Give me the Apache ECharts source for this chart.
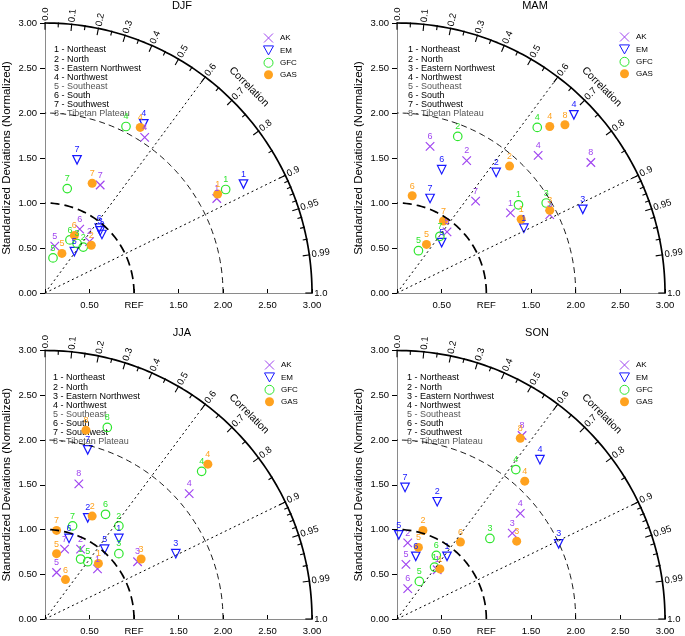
<!DOCTYPE html>
<html><head><meta charset="utf-8">
<script src="https://cdn.jsdelivr.net/npm/echarts@6/dist/echarts.min.js"></script>
<style>html,body{margin:0;padding:0;background:#fff}#c{width:685px;height:636px}</style>
</head><body><div id="c"></div>
<script>
// ---------- data ----------
const seasons = ['DJF', 'MAM', 'JJA', 'SON'];
const models = ['AK', 'EM', 'GFC', 'GAS'];
const regionNames = ['1 - Northeast', '2 - North', '3 - Eastern Northwest', '4 - Northwest',
  '5 - Southeast', '6 - South', '7 - Southwest', '8 - Tibetan Plateau'];
const stdTicks = [0, 0.5, 1, 1.5, 2, 2.5, 3];
const refLabel = 'REF';
const corrMajor = [0, 0.1, 0.2, 0.3, 0.4, 0.5, 0.6, 0.7, 0.8, 0.9, 0.95, 0.99, 1.0];
const corrMajorLabels = ['0.0', '0.1', '0.2', '0.3', '0.4', '0.5', '0.6', '0.7', '0.8', '0.9', '0.95', '0.99', '1.0'];
const corrMinor = [0.05, 0.15, 0.25, 0.35, 0.45, 0.55, 0.65, 0.75, 0.85, 0.91, 0.92, 0.93, 0.94, 0.96, 0.97, 0.98];
const refArcs = [1, 2];
const outerRadius = 3;
const corrRays = [0.6, 0.9];

// points: [x (std*corr), y (std*sqrt(1-corr^2)), region number]
const DJF_AK  = [[1.12,1.73,4],[0.62,1.20,7],[1.93,1.05,1],[0.39,0.71,6],[0.50,0.57,2],[0.11,0.52,5]];
const DJF_EM  = [[1.11,1.88,4],[0.36,1.48,7],[2.23,1.21,1],[0.61,0.72,6],[0.62,0.69,3],[0.64,0.65,2],[0.33,0.46,5]];
const DJF_GFC = [[0.91,1.85,4],[0.25,1.16,7],[2.03,1.15,1],[0.28,0.59,6],[0.43,0.51,2],[0.36,0.55,3],[0.09,0.39,5]];
const DJF_GAS = [[1.07,1.84,4],[0.53,1.22,7],[1.94,1.10,1],[0.33,0.64,6],[0.52,0.53,2],[0.19,0.44,5]];

const MAM_AK  = [[0.37,1.63,6],[0.78,1.47,2],[1.58,1.53,4],[2.17,1.45,8],[0.88,1.02,7],[1.27,0.89,1],[1.71,0.87,3],[0.56,0.68,5]];
const MAM_EM  = [[0.50,1.37,6],[1.11,1.34,2],[1.98,1.98,4],[0.37,1.05,7],[1.42,0.72,1],[2.08,0.93,3],[0.50,0.56,5]];
const MAM_GFC = [[0.68,1.74,2],[1.57,1.84,4],[1.36,0.98,1],[1.67,1.00,3],[0.48,0.63,7],[0.24,0.47,5]];
const MAM_GAS = [[1.26,1.41,2],[1.71,1.85,4],[1.88,1.87,8],[0.17,1.08,6],[1.39,0.82,1],[1.71,0.92,3],[0.52,0.80,7],[0.33,0.54,5]];

const JJA_AK  = [[0.38,1.51,8],[1.62,1.40,4],[0.22,0.78,7],[0.40,0.78,2],[0.59,0.56,1],[1.04,0.64,3],[0.13,0.52,5]];
const JJA_EM  = [[0.48,1.89,7],[0.48,1.13,2],[0.27,0.90,6],[0.83,0.90,1],[0.67,0.78,5],[1.47,0.73,3]];
const JJA_GFC = [[0.70,2.14,8],[1.76,1.65,4],[0.68,1.17,6],[0.31,1.04,7],[0.83,1.04,2],[0.83,0.73,3],[0.40,0.67,1],[0.48,0.64,5]];
const JJA_GAS = [[0.46,2.11,8],[1.83,1.73,4],[0.53,1.15,2],[0.13,0.99,7],[0.13,0.73,5],[0.60,0.62,1],[1.08,0.67,3],[0.23,0.44,6]];

const SON_AK  = [[1.40,2.05,8],[1.38,1.18,4],[1.29,0.96,3],[0.12,0.85,2],[0.10,0.61,5],[0.45,0.55,1],[0.12,0.34,6]];
const SON_EM  = [[1.60,1.78,4],[0.09,1.47,7],[0.45,1.31,2],[0.02,0.94,5],[0.21,0.70,6],[0.56,0.70,1],[1.81,0.84,3]];
const SON_GFC = [[1.33,1.67,4],[1.04,0.90,3],[0.44,0.71,6],[0.42,0.58,1],[0.25,0.42,5]];
const SON_GAS = [[1.38,2.02,8],[1.43,1.54,4],[0.29,0.99,2],[0.24,0.80,5],[0.71,0.86,6],[1.34,0.87,3],[0.48,0.56,1]];

const seasonData = {
  DJF: [DJF_AK, DJF_EM, DJF_GFC, DJF_GAS],
  MAM: [MAM_AK, MAM_EM, MAM_GFC, MAM_GAS],
  JJA: [JJA_AK, JJA_EM, JJA_GFC, JJA_GAS],
  SON: [SON_AK, SON_EM, SON_GFC, SON_GAS]
};

// ---------- styles / layout ----------
const FONT = 'Liberation Sans, Arial, Helvetica, sans-serif';
const modelColors = ['#a046f0', '#1818ff', '#2ee62e', '#ffa21f'];
const modelSymbols = ['path://M0,0L10,10M10,0L0,10', 'path://M0,0L10,0L5,9Z', 'circle', 'circle'];
const modelFilled = [false, false, false, true];
const regionTextColors = ['#000', '#000', '#000', '#000', '#555', '#000', '#000', '#555'];
const panels = [
  { grid: { left: 43, top: 23, width: 269, height: 270 }, title: [182, 6], legend: [263, 33], list: [54, 50] },
  { grid: { left: 397, top: 23, width: 268, height: 270 }, title: [535, 6], legend: [619, 32], list: [408, 50] },
  { grid: { left: 43, top: 350.5, width: 269, height: 270 }, title: [182, 333], legend: [264, 360], list: [53, 378] },
  { grid: { left: 397, top: 350.5, width: 268, height: 270 }, title: [537, 333], legend: [619, 360], list: [407, 378] }
];

function arcPoints(r) {
  const pts = [];
  for (let d = 0; d <= 90; d += 1) {
    const a = d * Math.PI / 180;
    pts.push([r * Math.cos(a), r * Math.sin(a)]);
  }
  return pts;
}
function rayPoints(c) {
  const s = Math.sqrt(1 - c * c);
  return [[0, 0], [outerRadius * c, outerRadius * s]];
}

const corrTickData = corrMajor.map((c, i) => [c, 1, i]).concat(corrMinor.map(c => [c, 0, -1]));

function corrRender(params, api) {
  const c = api.value(0), major = api.value(1), idx = api.value(2);
  const th = Math.acos(Math.min(1, c));
  const cs = Math.cos(th), sn = Math.sin(th);
  const len = major ? 0.075 : 0.045;
  const p1 = api.coord([(outerRadius + 0.01) * cs, (outerRadius + 0.01) * sn]);
  const p0 = api.coord([(outerRadius - len) * cs, (outerRadius - len) * sn]);
  const children = [{ type: 'line', shape: { x1: p0[0], y1: p0[1], x2: p1[0], y2: p1[1] },
    style: { stroke: '#000', lineWidth: 1.1 } }];
  if (major) {
    const p2 = api.coord([(outerRadius + 0.025) * cs, (outerRadius + 0.025) * sn]);
    children.push({ type: 'text', x: p2[0], y: p2[1], rotation: th,
      style: { text: corrMajorLabels[idx], fontSize: 9.5, fontFamily: FONT, fill: '#000',
        align: 'left', verticalAlign: 'middle' } });
  }
  if (params.dataIndex === 0) {
    const a = Math.PI / 4, rr = 3.24;
    const pc = api.coord([rr * Math.cos(a), rr * Math.sin(a)]);
    children.push({ type: 'text', x: pc[0], y: pc[1], rotation: -(Math.PI / 2 - a),
      style: { text: 'Correlation', fontSize: 10.5, fontFamily: FONT, fill: '#000',
        align: 'center', verticalAlign: 'middle' } });
  }
  return { type: 'group', children };
}

const option = {
  animation: false,
  backgroundColor: '#fff',
  grid: [], xAxis: [], yAxis: [], series: [], legend: [], graphic: []
};

seasons.forEach((s, k) => {
  const P = panels[k];
  option.grid.push(Object.assign({ containLabel: false }, P.grid));
  option.xAxis.push({
    type: 'value', gridIndex: k, min: 0, max: 3, interval: 0.5,
    splitLine: { show: false },
    axisLine: { show: true, lineStyle: { color: '#8a8a8a', width: 1 } },
    axisTick: { show: true, inside: true, length: 4, lineStyle: { color: '#000' } },
    axisLabel: { fontSize: 9.5, fontFamily: FONT, color: '#000', margin: 7,
      formatter: v => v === 0 ? '' : (v === 1 ? refLabel : v.toFixed(2)) }
  });
  option.yAxis.push({
    type: 'value', gridIndex: k, min: 0, max: 3, interval: 0.5,
    name: 'Standardized Deviations (Normalized)', nameLocation: 'middle', nameGap: 32,
    nameRotate: 90, nameTextStyle: { fontSize: 11.5, fontFamily: FONT, color: '#000' },
    splitLine: { show: false },
    axisLine: { show: true, lineStyle: { color: '#8a8a8a', width: 1 } },
    axisTick: { show: true, inside: false, length: 5, lineStyle: { color: '#000' } },
    axisLabel: { fontSize: 9.5, fontFamily: FONT, color: '#000', margin: 8,
      formatter: v => v.toFixed(2) }
  });
  const base = { xAxisIndex: k, yAxisIndex: k, silent: true, animation: false };
  option.series.push(Object.assign({ type: 'line', data: arcPoints(outerRadius), symbol: 'none', clip: false,
    lineStyle: { color: '#000', width: 1.7 } }, base));
  option.series.push(Object.assign({ type: 'line', data: arcPoints(refArcs[0]), symbol: 'none', clip: false,
    lineStyle: { color: '#000', width: 1.7, type: [9, 5] } }, base));
  option.series.push(Object.assign({ type: 'line', data: arcPoints(refArcs[1]), symbol: 'none', clip: false,
    lineStyle: { color: '#000', width: 0.9, type: [6, 4] } }, base));
  corrRays.forEach(c => {
    option.series.push(Object.assign({ type: 'line', data: rayPoints(c), symbol: 'none', clip: false,
      lineStyle: { color: '#000', width: 1, type: [2, 3] } }, base));
  });
  option.series.push(Object.assign({ type: 'custom', renderItem: corrRender, data: corrTickData,
    encode: { x: 0, y: 1 }, clip: false }, base));
  models.forEach((m, j) => {
    const col = modelColors[j];
    option.series.push(Object.assign({
      type: 'scatter', name: m, data: seasonData[s][j], symbol: modelSymbols[j],
      symbolSize: modelFilled[j] ? 9 : 8.5, clip: false,
      itemStyle: modelFilled[j] ? { color: col, opacity: 1 }
        : { color: 'rgba(255,255,255,0)', borderColor: col, borderWidth: 1.2, opacity: 1 },
      label: { show: true, position: 'top', distance: 0.5, fontSize: 9, fontFamily: FONT, color: col,
        formatter: p => String(p.value[2]) }
    }, base));
  });
  option.legend.push({
    left: P.legend[0], top: P.legend[1], orient: 'vertical', selectedMode: false,
    itemWidth: 13, itemHeight: 9, itemGap: 2.4, padding: 0,
    itemStyle: { borderWidth: 1 },
    textStyle: { fontSize: 8, fontFamily: FONT, color: '#000', lineHeight: 9 },
    data: models.map((m, j) => ({ name: m, icon: modelSymbols[j] }))
  });
  option.graphic.push({ type: 'text', x: P.title[0], y: P.title[1], silent: true,
    style: { text: s, fontSize: 11, fontFamily: FONT, fill: '#000', align: 'center', verticalAlign: 'middle' } });
  regionNames.forEach((t, i) => {
    option.graphic.push({ type: 'text', x: P.list[0], y: P.list[1] + i * 9.1, silent: true,
      style: { text: t, fontSize: 9, fontFamily: FONT, fill: regionTextColors[i], align: 'left', verticalAlign: 'middle' } });
  });
});

const chart = echarts.init(document.getElementById('c'), null, { renderer: 'canvas' });
chart.setOption(option);
</script>
</body></html>
